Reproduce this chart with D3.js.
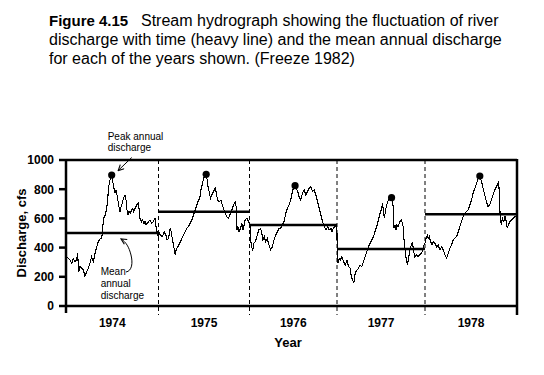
<!DOCTYPE html>
<html>
<head>
<meta charset="utf-8">
<script src="https://cdn.jsdelivr.net/npm/d3@7"></script>
<style>
  body { margin: 0; background: #fff; }
  text { font-family: "Liberation Sans", Arial, sans-serif; fill: #000; }
</style>
</head>
<body>
<div id="chart"></div>
<script>
// year boundaries and labels
const years = [1974, 1975, 1976, 1977, 1978];
const yTicks = [0, 200, 400, 600, 800, 1000];

// mean annual discharge for each year (cfs)
const meanCfs = [500, 645, 555, 390, 628];

// peak annual discharge (decimal year, cfs)
const peakYear = [1974.494, 1975.524, 1976.521, 1977.620, 1978.596];
const peakCfs = [897, 902, 824, 742, 890];

// hydrograph, decimal year
const flowYear = [
  1974.000, 1974.025, 1974.043, 1974.061, 1974.079, 1974.097, 1974.115, 1974.126, 1974.137, 1974.151,
  1974.169, 1974.187, 1974.205, 1974.223, 1974.241, 1974.259, 1974.277, 1974.295, 1974.314, 1974.332,
  1974.350, 1974.360, 1974.375, 1974.386, 1974.396, 1974.404, 1974.414, 1974.425, 1974.440, 1974.450,
  1974.461, 1974.476, 1974.494, 1974.505, 1974.519, 1974.530, 1974.541, 1974.555, 1974.569, 1974.584,
  1974.595, 1974.609, 1974.620, 1974.638, 1974.649, 1974.659, 1974.670, 1974.681, 1974.695, 1974.710,
  1974.721, 1974.732, 1974.746, 1974.764, 1974.782, 1974.793, 1974.800, 1974.818, 1974.829, 1974.843,
  1974.854, 1974.865, 1974.879, 1974.894, 1974.908, 1974.926, 1974.944, 1974.962, 1974.973, 1974.984,
  1974.998,
  1975.010, 1975.018, 1975.044, 1975.062, 1975.081, 1975.095, 1975.110, 1975.128, 1975.139, 1975.154,
  1975.168, 1975.183, 1975.194, 1975.212, 1975.231, 1975.249, 1975.275, 1975.293, 1975.311, 1975.330,
  1975.348, 1975.366, 1975.385, 1975.403, 1975.421, 1975.440, 1975.454, 1975.465, 1975.476, 1975.487,
  1975.502, 1975.524, 1975.535, 1975.546, 1975.557, 1975.571, 1975.586, 1975.604, 1975.623, 1975.637,
  1975.648, 1975.667, 1975.685, 1975.696, 1975.714, 1975.733, 1975.751, 1975.769, 1975.784, 1975.799,
  1975.824, 1975.842, 1975.853, 1975.861, 1975.872, 1975.886, 1975.901, 1975.916, 1975.927, 1975.941,
  1975.952, 1975.971, 1975.989,
  1976.005, 1976.011, 1976.023, 1976.038, 1976.050, 1976.069, 1976.088, 1976.107, 1976.126, 1976.138,
  1976.153, 1976.169, 1976.184, 1976.203, 1976.222, 1976.241, 1976.261, 1976.280, 1976.299, 1976.318,
  1976.337, 1976.356, 1976.375, 1976.395, 1976.414, 1976.433, 1976.452, 1976.471, 1976.490, 1976.510,
  1976.521, 1976.536, 1976.552, 1976.567, 1976.586, 1976.605, 1976.625, 1976.644, 1976.663, 1976.682,
  1976.701, 1976.720, 1976.739, 1976.759, 1976.778, 1976.797, 1976.816, 1976.835, 1976.854, 1976.874,
  1976.893, 1976.912, 1976.931, 1976.943, 1976.958, 1976.973, 1976.989, 1976.998,
  1977.004, 1977.011, 1977.026, 1977.038, 1977.056, 1977.075, 1977.094, 1977.113, 1977.132, 1977.150,
  1977.162, 1977.177, 1977.192, 1977.207, 1977.226, 1977.244, 1977.263, 1977.282, 1977.301, 1977.320,
  1977.338, 1977.357, 1977.376, 1977.395, 1977.414, 1977.432, 1977.451, 1977.470, 1977.489, 1977.508,
  1977.519, 1977.530, 1977.541, 1977.553, 1977.564, 1977.583, 1977.602, 1977.620, 1977.628, 1977.639,
  1977.647, 1977.658, 1977.669, 1977.680, 1977.695, 1977.714, 1977.733, 1977.752, 1977.763, 1977.778,
  1977.789, 1977.801, 1977.816, 1977.831, 1977.846, 1977.857, 1977.868, 1977.883, 1977.902, 1977.921,
  1977.940, 1977.959, 1977.977, 1977.989,
  1978.000, 1978.011, 1978.025, 1978.036, 1978.047, 1978.061, 1978.076, 1978.090, 1978.108, 1978.126,
  1978.144, 1978.162, 1978.181, 1978.199, 1978.217, 1978.235, 1978.253, 1978.271, 1978.289, 1978.307,
  1978.325, 1978.343, 1978.361, 1978.379, 1978.397, 1978.415, 1978.433, 1978.451, 1978.469, 1978.487,
  1978.505, 1978.523, 1978.542, 1978.560, 1978.578, 1978.596, 1978.614, 1978.632, 1978.650, 1978.668,
  1978.686, 1978.704, 1978.722, 1978.740, 1978.758, 1978.776, 1978.794, 1978.801, 1978.809, 1978.816,
  1978.823, 1978.830, 1978.841, 1978.856, 1978.870, 1978.884, 1978.895, 1978.906, 1978.921, 1978.939,
  1978.957, 1978.975, 1978.993
];
const flowCfs = [
  338, 326, 315, 292, 326, 304, 315, 361, 230, 269,
  258, 247, 205, 235, 258, 292, 338, 304, 361, 406,
  441, 452, 464, 464, 521, 589, 612, 623, 669, 726,
  817, 863, 897, 852, 806, 772, 795, 749, 692, 646,
  680, 703, 737, 760, 726, 658, 623, 646, 635, 658,
  669, 646, 669, 692, 703, 646, 600, 578, 589, 566,
  578, 555, 566, 578, 589, 566, 578, 600, 543, 509,
  475,
  509, 486, 475, 509, 486, 452, 464, 532, 509, 452,
  406, 349, 384, 406, 429, 452, 486, 509, 532, 543,
  566, 589, 623, 658, 692, 726, 737, 794, 817, 852,
  886, 902, 863, 806, 783, 737, 760, 783, 806, 772,
  726, 715, 726, 703, 669, 635, 612, 600, 623, 646,
  692, 715, 680, 521, 543, 509, 532, 566, 521, 555,
  589, 600, 578,
  560, 463, 406, 384, 429, 441, 486, 521, 532, 509,
  452, 475, 441, 464, 418, 384, 406, 452, 486, 509,
  532, 532, 555, 578, 635, 669, 692, 726, 783, 829,
  824, 806, 783, 749, 726, 772, 794, 760, 783, 806,
  817, 783, 794, 760, 715, 669, 623, 578, 543, 521,
  543, 521, 532, 509, 532, 543, 555, 555,
  330, 292, 326, 315, 338, 304, 281, 315, 269, 258,
  201, 178, 160, 224, 247, 258, 281, 269, 304, 338,
  372, 406, 429, 452, 475, 509, 543, 589, 635, 669,
  703, 623, 612, 658, 692, 726, 737, 742, 726, 680,
  532, 555, 521, 555, 543, 578, 589, 543, 441, 361,
  315, 281, 338, 395, 418, 441, 384, 338, 349, 338,
  349, 361, 384, 418,
  430, 463, 486, 463, 475, 441, 418, 441, 429, 406,
  418, 384, 406, 384, 349, 327, 361, 395, 418, 452,
  464, 475, 509, 543, 578, 612, 635, 646, 658, 692,
  726, 772, 806, 840, 874, 890, 852, 806, 760, 715,
  680, 692, 726, 760, 795, 817, 840, 852, 749, 635,
  578, 555, 600, 578, 612, 578, 532, 555, 578, 589,
  600, 612, 612
];

const W = 544, H = 375;
const svg = d3.select("#chart").append("svg")
    .attr("width", W)
    .attr("height", H)
    .style("background", "#fff");

// title
const title = svg.append("g").attr("class", "title");
const t1 = title.append("text").attr("x", 49).attr("y", 25.5);
t1.append("tspan").attr("font-weight", "bold").attr("font-size", "15px").text("Figure 4.15");
t1.append("tspan").attr("x", 141).attr("font-size", "16px")
    .text("Stream hydrograph showing the fluctuation of river");
title.append("text").attr("x", 49).attr("y", 44.5).attr("font-size", "16px")
    .text("discharge with time (heavy line) and the mean annual discharge");
title.append("text").attr("x", 49).attr("y", 63.5).attr("font-size", "16px")
    .text("for each of the years shown. (Freeze 1982)");

// scales: year boundaries are not quite evenly spaced on the figure
const x = d3.scaleLinear()
    .domain([1974, 1975, 1976, 1977, 1978, 1979])
    .range([66, 158.5, 249.5, 337, 425, 517]);
const y = d3.scaleLinear().domain([0, 1000]).range([306, 160]);

const x0 = x(1974), x1 = x(1979);
const heavy = 2.5;

// y axis ticks and labels
const yAxis = svg.append("g");
yAxis.selectAll("line.tick").data(yTicks).enter().append("line")
    .attr("x1", x0 - 7).attr("x2", x0)
    .attr("y1", d => y(d)).attr("y2", d => y(d))
    .attr("stroke", "#000").attr("stroke-width", heavy);
yAxis.selectAll("text").data(yTicks).enter().append("text")
    .attr("x", x0 - 12)
    .attr("y", d => y(d))
    .attr("dy", "0.36em")
    .attr("text-anchor", "end")
    .attr("font-weight", "bold")
    .attr("font-size", "12px")
    .text(d => d);

// year dividers (dashed)
svg.selectAll("line.divider").data(years.slice(1)).enter().append("line")
    .attr("x1", d => x(d)).attr("x2", d => x(d))
    .attr("y1", y(1000)).attr("y2", y(0) + 9)
    .attr("stroke", "#000").attr("stroke-width", 1)
    .attr("stroke-dasharray", "4,3");

// frame
svg.append("line").attr("x1", x0).attr("x2", x1).attr("y1", y(1000)).attr("y2", y(1000))
    .attr("stroke", "#000").attr("stroke-width", heavy);
svg.append("line").attr("x1", x0).attr("x2", x1).attr("y1", y(0)).attr("y2", y(0))
    .attr("stroke", "#000").attr("stroke-width", heavy);
svg.append("line").attr("x1", x0).attr("x2", x0).attr("y1", y(1000) - 1).attr("y2", y(0) + 7)
    .attr("stroke", "#000").attr("stroke-width", heavy);
svg.append("line").attr("x1", x1).attr("x2", x1).attr("y1", y(1000) - 1).attr("y2", y(0) + 9)
    .attr("stroke", "#000").attr("stroke-width", heavy);

// year labels
svg.selectAll("text.year").data(years).enter().append("text")
    .attr("class", "year")
    .attr("x", d => x(d + 0.5))
    .attr("y", 326.5)
    .attr("text-anchor", "middle")
    .attr("font-weight", "bold")
    .attr("font-size", "12px")
    .text(d => d);

// axis titles
svg.append("text")
    .attr("x", 288).attr("y", 346.5)
    .attr("text-anchor", "middle")
    .attr("font-weight", "bold")
    .attr("font-size", "13px")
    .text("Year");
svg.append("text")
    .attr("transform", `translate(25.5,${(y(0) + y(1000)) / 2}) rotate(-90)`)
    .attr("text-anchor", "middle")
    .attr("font-weight", "bold")
    .attr("font-size", "13px")
    .text("Discharge, cfs");

// mean annual discharge bars
svg.selectAll("line.mean").data(years).enter().append("line")
    .attr("x1", d => x(d)).attr("x2", d => x(d + 1))
    .attr("y1", (d, i) => y(meanCfs[i])).attr("y2", (d, i) => y(meanCfs[i]))
    .attr("stroke", "#000").attr("stroke-width", heavy);

// hydrograph
const flow = flowYear.map((t, i) => [t, flowCfs[i]]);
svg.append("path")
    .datum(flow)
    .attr("fill", "none")
    .attr("stroke", "#000")
    .attr("stroke-width", 1.1)
    .attr("shape-rendering", "crispEdges")
    .attr("d", d3.line().x(d => x(d[0])).y(d => y(d[1])));

// peak dots
svg.selectAll("circle.peak").data(peakYear).enter().append("circle")
    .attr("cx", d => x(d))
    .attr("cy", (d, i) => y(peakCfs[i]))
    .attr("r", 3.6)
    .attr("fill", "#000");

// annotation arrows
const defs = svg.append("defs");
defs.append("marker")
    .attr("id", "head")
    .attr("viewBox", "0 0 10 10")
    .attr("refX", 9).attr("refY", 5)
    .attr("markerWidth", 7).attr("markerHeight", 7)
    .attr("markerUnits", "userSpaceOnUse")
    .attr("orient", "auto")
    .append("path")
    .attr("d", "M1,1 L9,5 L1,9")
    .attr("fill", "none")
    .attr("stroke", "#000")
    .attr("stroke-width", 1.6);

const px = x(peakYear[0]), py = y(peakCfs[0]);
svg.append("text").attr("x", px - 4).attr("y", py - 35.5).attr("font-size", "10px").text("Peak annual");
svg.append("text").attr("x", px - 4).attr("y", py - 24).attr("font-size", "10px").text("discharge");
svg.append("line")
    .attr("x1", px + 20).attr("y1", py - 17.5)
    .attr("x2", px + 6.5).attr("y2", py - 4.5)
    .attr("stroke", "#000").attr("stroke-width", 1)
    .attr("marker-end", "url(#head)");

const my = y(meanCfs[0]);
svg.append("text").attr("x", 100.7).attr("y", my + 41.5).attr("font-size", "10px").text("Mean");
svg.append("text").attr("x", 100.7).attr("y", my + 53.5).attr("font-size", "10px").text("annual");
svg.append("text").attr("x", 100.7).attr("y", my + 65.5).attr("font-size", "10px").text("discharge");
svg.append("path")
    .attr("d", `M126,${my + 39} C132,${my + 38} 133,${my + 30} 131,${my + 22} C129,${my + 14} 126,${my + 9} 121,${my + 6}`)
    .attr("fill", "none")
    .attr("stroke", "#000").attr("stroke-width", 1)
    .attr("marker-end", "url(#head)");
</script>
</body>
</html>
